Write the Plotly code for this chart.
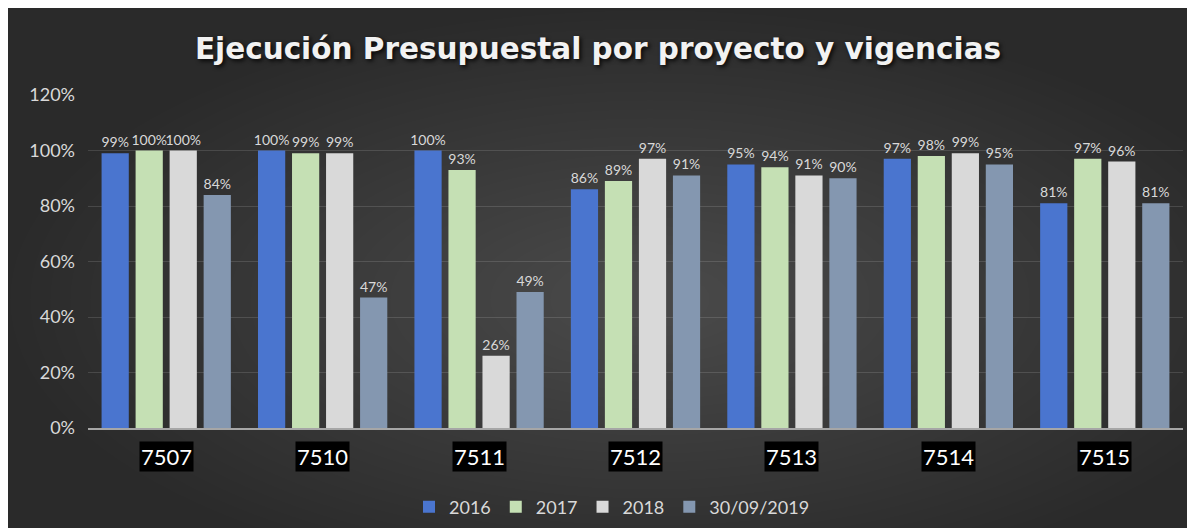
import plotly.graph_objects as go

# data
projects = ['7507', '7510', '7511', '7512', '7513', '7514', '7515']
series_names = ['2016', '2017', '2018', '30/09/2019']
v2016 = [0.99, 1.00, 1.00, 0.86, 0.95, 0.97, 0.81]
v2017 = [1.00, 0.99, 0.93, 0.89, 0.94, 0.98, 0.97]
v2018 = [1.00, 0.99, 0.26, 0.97, 0.91, 0.99, 0.96]
v2019 = [0.84, 0.47, 0.49, 0.91, 0.90, 0.95, 0.81]

colors = ['#4a75cf', '#c5e0b4', '#d9d9d9', '#8497b0']
W, H = 1195, 528
OFF = 8  # page body margin
L, R, T, B = 80, 20, 87, 107
FONT = 'Lato'


def px_x(sx):
    return (sx - OFF - L) / (W - L - R)


def px_y(sy):
    return (H - B - (sy - OFF)) / (H - T - B)


fig = go.Figure()
for name, vals, col in zip(series_names, [v2016, v2017, v2018, v2019], colors):
    fig.add_trace(go.Bar(
        x=projects, y=vals, name=name,
        marker=dict(color=col, line=dict(width=0)),
        text=[f'{v:.0%}' for v in vals],
        textposition='outside', constraintext='none', cliponaxis=False,
        textfont=dict(family=FONT, size=14, color='#d9d9d9'),
    ))

# soft radial glow on the dark background
shapes = []
cx, cy = 650, 300
steps = 30
for i in range(steps):
    rx = 640 - i * 20
    ry = 290 - i * 9
    shapes.append(dict(type='circle', xref='paper', yref='paper', layer='below',
                       x0=px_x(cx - rx), x1=px_x(cx + rx),
                       y0=px_y(cy + ry), y1=px_y(cy - ry),
                       fillcolor='rgba(255,255,255,0.0068)', line=dict(width=0)))

# category labels in black boxes (category axis -> index positions)
annotations = []
for i, p in enumerate(projects):
    annotations.append(dict(x=i, xref='x', y=px_y(458), yref='paper',
                            text=p, showarrow=False, yanchor='middle',
                            font=dict(family=FONT, size=22, color='#ffffff'),
                            bgcolor='#000000', borderpad=1))

fig.update_layout(
    width=W, height=H,
    margin=dict(l=L, r=R, t=T, b=B),
    paper_bgcolor='#2a2a2a',
    plot_bgcolor='rgba(0,0,0,0)',
    barmode='group', bargap=0.13, bargroupgap=0.2,
    title=dict(text='Ejecución Presupuestal por proyecto y vigencias',
               x=(598 - OFF) / W, xref='container', xanchor='center',
               y=1 - (49 - OFF) / H, yref='container', yanchor='middle',
               font=dict(family='DejaVu Sans', size=29.5, color='#f2f2f2',
                         weight='bold', shadow='2px 2px 4px rgba(0,0,0,0.85)')),
    legend=dict(orientation='h', x=px_x(612), xanchor='center',
                y=px_y(507), yanchor='middle',
                font=dict(family=FONT, size=18, color='#d9d9d9'),
                bgcolor='rgba(0,0,0,0)'),
    shapes=shapes,
    annotations=annotations,
    showlegend=True,
)
fig.update_xaxes(type='category', range=[-0.5, len(projects) - 0.5],
                 showticklabels=False, showgrid=False,
                 showline=True, linecolor='#a6a6a6', linewidth=2, ticks='')
fig.update_yaxes(range=[0, 1.2], dtick=0.2, tickformat='.0%',
                 gridcolor='rgba(255,255,255,0.13)', gridwidth=1,
                 zeroline=False, showline=False, ticks='',
                 ticklabelstandoff=12,
                 tickfont=dict(family=FONT, size=18, color='#d9d9d9'))

fig.write_html('out.html')
